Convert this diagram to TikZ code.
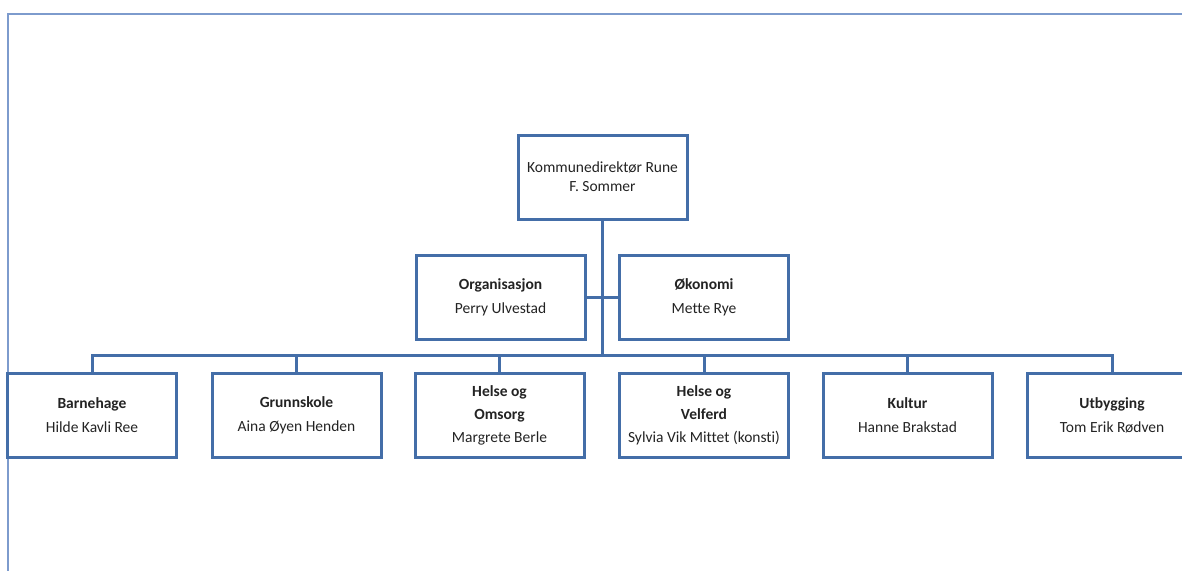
\documentclass[tikz,border=0pt]{standalone}
\usepackage{fontspec}
\setmainfont[Ligatures={NoCommon}]{Carlito}
\definecolor{boxblue}{RGB}{68,110,168}
\definecolor{framebl}{RGB}{125,155,205}
\definecolor{txt}{RGB}{35,35,35}
\begin{document}
\begin{tikzpicture}[x=1pt,y=-1pt,
  orgbox/.style={draw=boxblue,line width=3pt,rectangle,minimum width=169pt,minimum height=84pt,
    inner sep=2pt,align=center,text=txt,font=\fontsize{15.5}{24}\selectfont},
  threebox/.style={orgbox,font=\fontsize{15.5}{23}\selectfont},
  topbox/.style={orgbox,font=\fontsize{15.5}{19}\selectfont},
  conn/.style={draw=boxblue,line width=3pt,line join=miter},
  framel/.style={draw=framebl,line width=1.5pt}]
\useasboundingbox (0,0) rectangle (1182,571);
\draw[framel] (1182,14) -- (8,14) -- (8,571);
\node[topbox] (top) at (602.5,177) {Kommunedirektør Rune\\F. Sommer};
\node[orgbox] (org) at (500.5,297.5) {\textbf{Organisasjon}\\Perry Ulvestad};
\node[orgbox] (oko) at (704,297.5) {\textbf{Økonomi}\\Mette Rye};
\node[orgbox] (b1) at (92,415) {\textbf{Barnehage}\\Hilde Kavli Ree};
\node[orgbox] (b2) at (296.5,415) {\textbf{Grunnskole}\\Aina Øyen Henden};
\node[threebox] (b3) at (499.5,415) {\textbf{Helse og}\\\textbf{Omsorg}\\Margrete Berle};
\node[threebox] (b4) at (704,415) {\textbf{Helse og}\\\textbf{Velferd}\\Sylvia Vik Mittet (konsti)};
\node[orgbox] (b5) at (907.5,415) {\textbf{Kultur}\\Hanne Brakstad};
\node[orgbox] (b6) at (1112,415) {\textbf{Utbygging}\\Tom Erik Rødven};
\coordinate (bus) at (602.5,355);
\draw[conn] (top.south) -- (bus);
\draw[conn] (org.east) -- (oko.west);
\draw[conn] (b1.north) -- (b1.north |- bus) -| (b6.north);
\foreach \n in {b2,b3,b4,b5}{\draw[conn] (\n.north) -- (\n.north |- bus);}
\end{tikzpicture}
\end{document}
